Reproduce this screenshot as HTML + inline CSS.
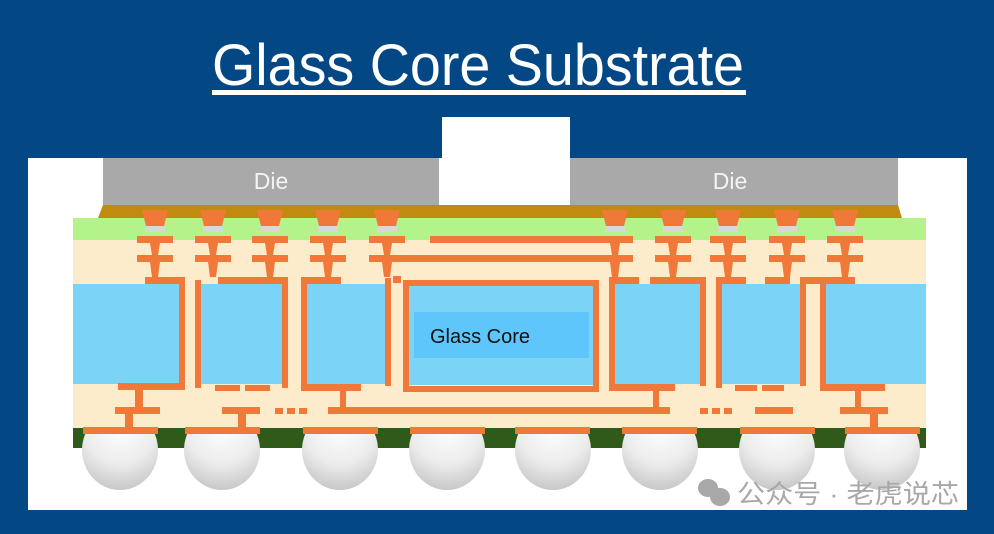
<!DOCTYPE html>
<html><head><meta charset="utf-8"><style>
html,body{margin:0;padding:0;background:#034884;width:994px;height:534px;overflow:hidden}
</style></head><body>
<svg width="994" height="534" viewBox="0 0 994 534" xmlns="http://www.w3.org/2000/svg">
<defs>
<radialGradient id="ball" cx="0.5" cy="0.2" r="0.8">
<stop offset="0" stop-color="#ffffff"/><stop offset="0.6" stop-color="#ececec"/><stop offset="1" stop-color="#c8c8c8"/>
</radialGradient>
<clipPath id="bc"><rect x="0" y="434" width="994" height="100"/></clipPath>
</defs>
<rect width="994" height="534" fill="#034884"/>
<text x="212" y="85" font-family="Liberation Sans, sans-serif" font-size="58" fill="#fff" textLength="532" lengthAdjust="spacingAndGlyphs">Glass Core Substrate</text>
<rect x="212" y="90" width="534" height="5" fill="#fff"/>
<rect x="28" y="158" width="939" height="352" fill="#fff"/>
<rect x="442" y="117" width="128" height="88" fill="#fff"/>
<rect x="103" y="158" width="336" height="47" fill="#a9a9a9"/>
<rect x="570" y="158" width="328" height="47" fill="#a9a9a9"/>
<text x="271" y="189" font-family="Liberation Sans, sans-serif" font-size="23" fill="#f4f4f4" text-anchor="middle">Die</text>
<text x="730" y="189" font-family="Liberation Sans, sans-serif" font-size="23" fill="#f4f4f4" text-anchor="middle">Die</text>
<polygon points="103,205 898,205 902,218 98,218" fill="#c28a10"/>
<rect x="73" y="218" width="853" height="22" fill="#b4f28a"/>
<rect x="73" y="240" width="853" height="188" fill="#fdeccb"/>
<rect x="73" y="428" width="853" height="20" fill="#305a1a"/>
<g fill="#7bd4f6">
<rect x="73" y="284" width="106" height="100"/>
<rect x="201" y="284" width="81" height="100"/>
<rect x="307" y="284" width="78" height="100"/>
<rect x="409" y="285" width="184" height="100"/>
<rect x="615" y="284" width="85" height="100"/>
<rect x="722" y="284" width="78" height="100"/>
<rect x="826" y="284" width="100" height="100"/>
</g>
<rect x="414" y="312" width="175" height="46" fill="#5ec6fa"/>
<text x="430" y="343" font-family="Liberation Sans, sans-serif" font-size="20" fill="#111">Glass Core</text>
<g fill="#f07838">
<rect x="179" y="277" width="6" height="113"/>
<rect x="195" y="280" width="6" height="108"/>
<rect x="282" y="280" width="6" height="108"/>
<rect x="301" y="278" width="6" height="110"/>
<rect x="385" y="278" width="6" height="108"/>
<rect x="403" y="280" width="6" height="112"/>
<rect x="593" y="280" width="6" height="112"/>
<rect x="609" y="278" width="6" height="110"/>
<rect x="700" y="278" width="6" height="108"/>
<rect x="716" y="278" width="6" height="110"/>
<rect x="800" y="278" width="6" height="108"/>
<rect x="820" y="278" width="6" height="112"/>
<rect x="145" y="277" width="40" height="7"/>
<rect x="218" y="277" width="70" height="7"/>
<rect x="301" y="277" width="40" height="7"/>
<rect x="405" y="280" width="194" height="6"/>
<rect x="609" y="277" width="30" height="7"/>
<rect x="650" y="277" width="56" height="7"/>
<rect x="716" y="277" width="30" height="7"/>
<rect x="765" y="277" width="25" height="7"/>
<rect x="800" y="277" width="55" height="7"/>
<rect x="118" y="383" width="67" height="7"/>
<rect x="215" y="385" width="25" height="6"/>
<rect x="245" y="385" width="25" height="6"/>
<rect x="301" y="384" width="60" height="7"/>
<rect x="403" y="386" width="196" height="6"/>
<rect x="609" y="384" width="66" height="7"/>
<rect x="735" y="385" width="22" height="6"/>
<rect x="762" y="385" width="22" height="6"/>
<rect x="820" y="384" width="65" height="7"/>
<rect x="135" y="390" width="8" height="18"/>
<rect x="115" y="407" width="45" height="7"/>
<rect x="125" y="414" width="8" height="14"/>
<rect x="222" y="407" width="38" height="7"/>
<rect x="238" y="414" width="8" height="14"/>
<rect x="275" y="408" width="8" height="6"/><rect x="287" y="408" width="8" height="6"/><rect x="299" y="408" width="8" height="6"/>
<rect x="340" y="391" width="6" height="16"/>
<rect x="328" y="407" width="342" height="7"/>
<rect x="653" y="391" width="6" height="16"/>
<rect x="700" y="408" width="8" height="6"/><rect x="712" y="408" width="8" height="6"/><rect x="724" y="408" width="8" height="6"/>
<rect x="755" y="407" width="38" height="7"/>
<rect x="855" y="391" width="6" height="16"/>
<rect x="840" y="407" width="48" height="7"/>
<rect x="870" y="414" width="8" height="14"/>
<rect x="83" y="427" width="75" height="7"/>
<rect x="185" y="427" width="75" height="7"/>
<rect x="303" y="427" width="75" height="7"/>
<rect x="410" y="427" width="75" height="7"/>
<rect x="515" y="427" width="75" height="7"/>
<rect x="622" y="427" width="75" height="7"/>
<rect x="740" y="427" width="75" height="7"/>
<rect x="845" y="427" width="75" height="7"/>
<rect x="430" y="236" width="144" height="7"/>
<rect x="380" y="255" width="250" height="7"/>
<rect x="393" y="276" width="8" height="7"/>
<rect x="570" y="236" width="40" height="7"/>
</g>
<g fill="#f07838">
<g id="c1">
<polygon points="142,210 168,210 164,226 146,226"/>
<rect x="137" y="236" width="36" height="7"/>
<polygon points="150,243 160,243 158,255 152,255"/>
<rect x="137" y="255" width="36" height="7"/>
<polygon points="150,262 160,262 158,277 152,277"/>
</g>
<use href="#c1" x="58"/>
<use href="#c1" x="115"/>
<use href="#c1" x="173"/>
<use href="#c1" x="232"/>
<use href="#c1" x="460"/>
<use href="#c1" x="518"/>
<use href="#c1" x="573"/>
<use href="#c1" x="632"/>
<use href="#c1" x="690"/>
</g>
<g fill="#d8d8d8">
<rect x="145" y="226" width="20" height="6"/><rect x="203" y="226" width="20" height="6"/><rect x="260" y="226" width="20" height="6"/><rect x="318" y="226" width="20" height="6"/><rect x="377" y="226" width="20" height="6"/>
<rect x="605" y="226" width="20" height="6"/><rect x="663" y="226" width="20" height="6"/><rect x="718" y="226" width="20" height="6"/><rect x="777" y="226" width="20" height="6"/><rect x="835" y="226" width="20" height="6"/>
</g>
<g fill="url(#ball)" clip-path="url(#bc)">
<ellipse cx="120" cy="450" rx="38" ry="40"/>
<ellipse cx="222" cy="450" rx="38" ry="40"/>
<ellipse cx="340" cy="450" rx="38" ry="40"/>
<ellipse cx="447" cy="450" rx="38" ry="40"/>
<ellipse cx="553" cy="450" rx="38" ry="40"/>
<ellipse cx="660" cy="450" rx="38" ry="40"/>
<ellipse cx="777" cy="450" rx="38" ry="40"/>
<ellipse cx="882" cy="450" rx="38" ry="40"/>
</g>
<g fill="#a8a8a8">
<ellipse cx="708" cy="488" rx="10" ry="9"/>
<ellipse cx="720" cy="497" rx="10" ry="9"/>
</g>
<text x="737" y="503" font-family="Liberation Sans, 'Noto Sans CJK SC', sans-serif" font-size="26" fill="#a8a8a8" textLength="222" lengthAdjust="spacingAndGlyphs">公众号 · 老虎说芯</text>
</svg>
</body></html>
